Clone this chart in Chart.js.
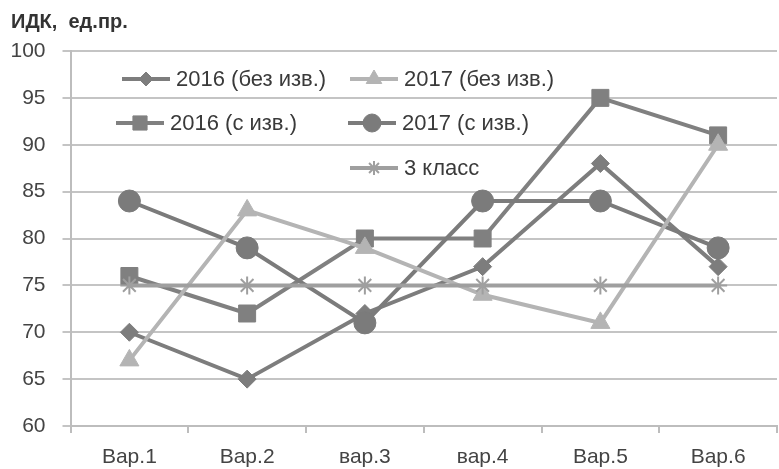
<!DOCTYPE html>
<html>
<head>
<meta charset="utf-8">
<script src="https://cdn.jsdelivr.net/npm/chart.js@4/dist/chart.umd.min.js"></script>
<style>
  body { margin: 0; background: #fff; overflow: hidden; }
  #wrap { width: 790px; height: 469px; }
</style>
</head>
<body>
<div id="wrap"><canvas id="ctx" width="790" height="469"></canvas></div>
<script>
// данные
const categories = ['Вар.1', 'Вар.2', 'вар.3', 'вар.4', 'Вар.5', 'Вар.6'];
const y2016noCorr = [70, 65, 72, 77, 88, 77];
const y2017noCorr = [67, 83, 79, 74, 71, 90];
const y2016corr = [76, 72, 80, 80, 95, 91];
const y2017corr = [84, 79, 71, 84, 84, 79];
const grade3 = [75, 75, 75, 75, 75, 75];
const seriesNames = ['2016 (без изв.)', '2017 (без изв.)', '2016 (с изв.)', '2017 (с изв.)', '3 класс'];
const yTicks = [60, 65, 70, 75, 80, 85, 90, 95, 100];

const FONT = 'Liberation Sans, Arial, sans-serif';

function series(label, data, color, style, radius) {
    return {
        label: label,
        data: data,
        borderColor: color,
        backgroundColor: color,
        borderWidth: 4,
        pointStyle: style,
        pointRadius: radius,
        pointHoverRadius: radius,
        pointBorderWidth: style === 'star' ? 2 : 1,
        tension: 0
    };
}

const datasets = [
    series(seriesNames[4], grade3, '#9f9f9f', 'star', 9),
    series(seriesNames[1], y2017noCorr, '#b4b4b4', 'triangle', 11),
    series(seriesNames[3], y2017corr, '#7b7b7b', 'circle', 11),
    series(seriesNames[2], y2016corr, '#808080', 'rect', 12),
    series(seriesNames[0], y2016noCorr, '#7d7d7d', 'rectRot', 9)
];

// легенда внутри области графика + заголовок оси
const legendPos = [
    { name: seriesNames[0], x: 122, y: 79 },
    { name: seriesNames[1], x: 350, y: 79 },
    { name: seriesNames[2], x: 116, y: 123 },
    { name: seriesNames[3], x: 348, y: 123 },
    { name: seriesNames[4], x: 350, y: 168 }
];

const decorPlugin = {
    id: 'decor',
    afterDatasetsDraw(chart) {
        const c = chart.ctx;
        c.save();
        c.fillStyle = '#333';
        c.font = 'bold 20px ' + FONT;
        c.textBaseline = 'middle';
        c.textAlign = 'left';
        c.fillText('ИДК,  ед.пр.', 11, 22);

        legendPos.forEach(p => {
            const ds = chart.data.datasets.find(d => d.label === p.name);
            c.strokeStyle = ds.borderColor;
            c.fillStyle = ds.backgroundColor;
            c.lineWidth = 4;
            c.beginPath();
            c.moveTo(p.x, p.y);
            c.lineTo(p.x + 48, p.y);
            c.stroke();
            c.lineWidth = ds.pointBorderWidth;
            Chart.helpers.drawPoint(c, {
                pointStyle: ds.pointStyle,
                radius: ds.pointRadius - 2,
                rotation: 0,
                borderWidth: ds.pointBorderWidth
            }, p.x + 24, p.y);
            c.fillStyle = '#3a3a3a';
            c.font = '22px ' + FONT;
            c.fillText(p.name, p.x + 54, p.y + 1);
        });
        c.restore();
    }
};

new Chart(document.getElementById('ctx'), {
    type: 'line',
    data: { labels: categories, datasets: datasets },
    options: {
        responsive: false,
        animation: false,
        layout: { padding: { top: 51, right: 4, left: 0, bottom: 0 } },
        plugins: { legend: { display: false }, tooltip: { enabled: false } },
        scales: {
            x: {
                offset: true,
                grid: { offset: true, drawOnChartArea: false, color: '#bdbdbd', lineWidth: 2, tickLength: 7 },
                border: { color: '#bdbdbd', width: 2 },
                ticks: { color: '#444', font: { family: FONT, size: 21 }, padding: 12 },
                afterFit(scale) { scale.height = 43; }
            },
            y: {
                min: 60,
                max: 100,
                afterBuildTicks(scale) { scale.ticks = yTicks.map(v => ({ value: v })); },
                grid: { color: '#c4c4c4', lineWidth: 2, tickLength: 8 },
                border: { color: '#bdbdbd', width: 2 },
                ticks: { color: '#444', font: { family: FONT, size: 21 }, padding: 17 },
                afterFit(scale) { scale.width = 70.5; }
            }
        }
    },
    plugins: [decorPlugin]
});
</script>
</body>
</html>
